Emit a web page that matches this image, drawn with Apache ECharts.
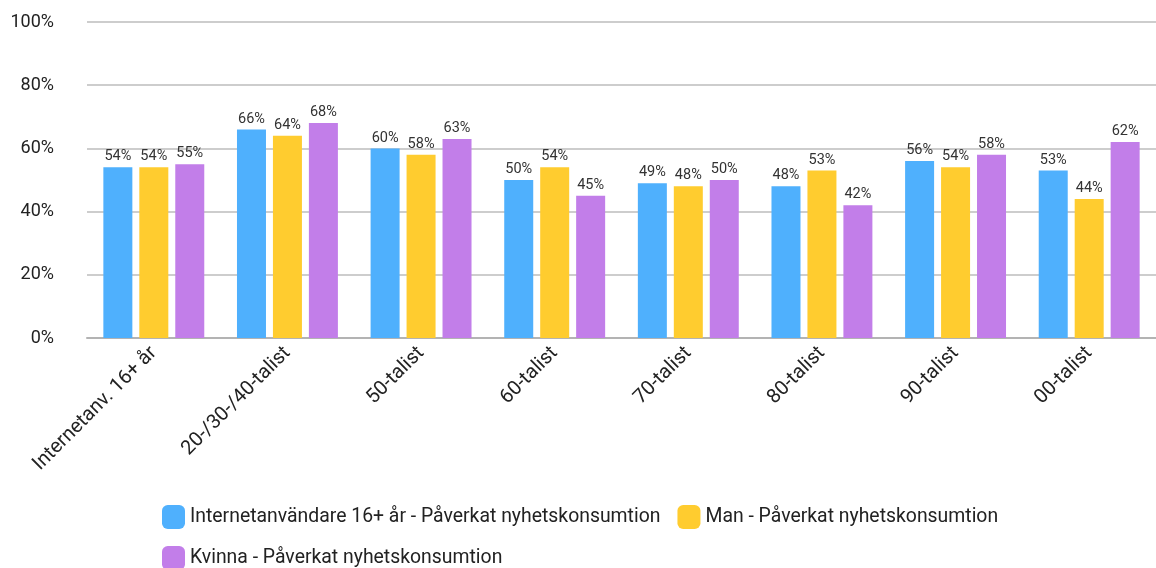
<!DOCTYPE html>
<html><head><meta charset="utf-8">
<script src="https://cdn.jsdelivr.net/npm/echarts@6/dist/echarts.min.js"></script>
<style>html,body{margin:0;padding:0;background:#fff}#c{width:1156px;height:568px}</style>
</head><body><div id="c"></div>
<script>
const categories = ['Internetanv. 16+ år','20-/30-/40-talist','50-talist','60-talist','70-talist','80-talist','90-talist','00-talist'];
const seriesNames = ['Internetanvändare 16+ år - Påverkat nyhetskonsumtion','Man - Påverkat nyhetskonsumtion','Kvinna - Påverkat nyhetskonsumtion'];
const internet = [54,66,60,50,49,48,56,53];
const man = [54,64,58,54,48,53,54,44];
const kvinna = [55,68,63,45,50,42,58,62];
const colors = ['#4fb0fd','#ffcc2f','#c27ee9'];
const font = 'Roboto, "Noto Sans", sans-serif';
const chart = echarts.init(document.getElementById('c'));
const mk = (name, data, color) => ({
  name, type: 'bar', data, barWidth: 29, barGap: '24%',
  itemStyle: {color},
  label: {show: true, position: 'top', formatter: '{c}%', fontSize: 14.5, color: '#333', fontFamily: font, distance: 3}
});
chart.setOption({
  animation: false,
  textStyle: {fontFamily: font},
  grid: {left: 87, right: -7, top: 22, bottom: 230, containLabel: false},
  legend: {
    left: 162, top: 505, width: 900, itemWidth: 23, itemHeight: 24, itemGap: 17, padding: 0,
    icon: 'roundRect', textStyle: {fontSize: 19.4, color: '#222', fontFamily: font},
    data: seriesNames
  },
  xAxis: {
    type: 'category', data: categories,
    axisTick: {show: false},
    axisLine: {lineStyle: {color: '#b3b3b3', width: 2}},
    axisLabel: {rotate: 45, fontSize: 20, color: '#222', margin: 12, interval: 0}
  },
  yAxis: {
    type: 'value', min: 0, max: 100, interval: 20,
    axisLabel: {formatter: '{value}%', fontSize: 18, color: '#222', margin: 33},
    splitLine: {lineStyle: {color: '#bdbdbd', width: 1.5}}
  },
  series: [mk(seriesNames[0], internet, colors[0]), mk(seriesNames[1], man, colors[1]), mk(seriesNames[2], kvinna, colors[2])]
});
</script></body></html>
